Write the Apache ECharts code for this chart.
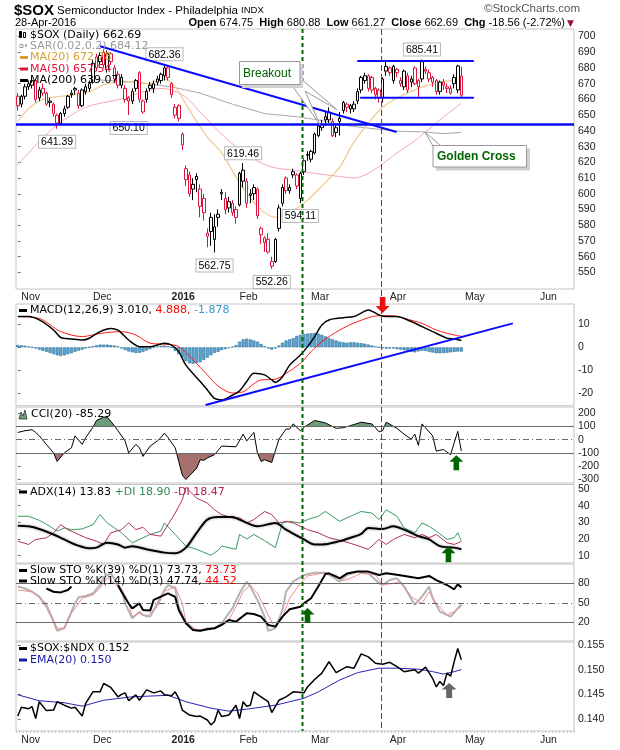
<!DOCTYPE html>
<html><head><meta charset="utf-8">
<script src="https://cdn.jsdelivr.net/npm/echarts@6.0.0/dist/echarts.min.js"></script>
<style>html,body{margin:0;padding:0;background:#fff}#c{width:620px;height:750px}</style>
</head><body><div id="c"></div>
<script>
const FONT = 'DejaVu Sans';
const AFONT = 'Liberation Sans';
const RED = '#dc143c';

// ---------- categories (trading days, incl. future slots) ----------
const HOLIDAYS = ['2015-11-26','2015-12-25','2016-01-01','2016-01-18','2016-02-15','2016-03-25','2016-05-30'];
function tradingDays(a, b) {
  const out = []; let d = new Date(a + 'T00:00:00Z'); const e = new Date(b + 'T00:00:00Z');
  while (d <= e) { const s = d.toISOString().slice(0,10); const w = d.getUTCDay();
    if (w !== 0 && w !== 6 && HOLIDAYS.indexOf(s) < 0) out.push(s); d = new Date(d.getTime() + 86400000); }
  return out;
}
const dates = tradingDays('2015-10-30','2016-06-14');
const monthNames = ['Jan','Feb','Mar','Apr','May','Jun','Jul','Aug','Sep','Oct','Nov','Dec'];

// ---------- price candles [open, close, low, high] ----------
const ohlc = [
[662,656,653,664],[657,662,655,663],[662,668,660,670],[668,670,666,672],[669,672,667,674],
[672,660,658,673],[661,666,659,668],[667,664,662,670],[664,657,656,665],[659,658,655,661],
[657,651,649,658],[650,645,641.39,651],[645,651,644,652],[651,654,649,656],[655,662,654,663],
[664,663,661,666],[667,666,663,668],[664,656,654,666],[656,666,655,667],[665,668,663,670],
[667,670,665,672],[671,683,670,685],[687,680,678,689],[688,684,681,690],[690,682,680,692],
[679,689,677,691],[689,684,682,690],[680,673,671,682],[676,669,667,678],[669,674,667,676],
[667,660,658,669],[661,659,650.1,662],[659,665,657,667],[667,672,665,673],[677,660,658,678],
[659,652,651,660],[660,665,658,667],[669,667,665,671],[667,670,664,672],[671,673,669,675],
[672,676,670,677],[675,680,672,682.36],[680,674,672,681],[670,663,661,671],[650,655,648,657],
[656,648,646,657],[638,631,628,639],[616,609,605,618],[612,600,598,614],[606,603,596,610],
[611,609,601,613],[603,592,585,606],[597,588,583,600],[575,573,566,578],[585,576,567,588],
[571,579,562.75,587],[585,587,579,590],[601,600,596,603],[597,590,587,601],[591,595,588,598],
[594,588,586,596],[590,585,581,592],[593,613,592,614],[608,615,604,619.46],[608,594,591,610],
[600,599,594,603],[600,604,596,606],[603,586,584,604],[578,574,568,579],[569,572,563,573],
[571,563,562,575],[554,557,552.26,560],[557,571,556,572],[578,591,576,593],[594,604,592,606],
[610,602,600,611],[602,604,600,606],[612,614,610,616],[612,605,603,613],[597,613,594.11,614],
[614,621,612,622],[625,624.5,621,627],[622,627,620,628],[626,638,625,639],[637,643,636,645],
[642,644,640,647],[647,649,643,652],[647,652,645,655],[646,637,636,648],[639,642,636,644],
[648,646,637,652],[653,658,651,659],[657,655,652,658],[654,656,651,657],[654,657,652,659],
[659,665,657,667],[666,674,664,675],[672,675,670,677],[675,667,665,676],[674,666,664,675],
[667,663,660,668],[666,661,658,667],[661,673,658,674],[678,681,675,685],[680,677,675,681],
[672,681,670,682],[679,677,674,680],[672,670,668,674],[668,678,666,679],[675,666,664,677],
[673,671,668,675],[680,670,669,681],[672,668,661,673],[673,684,671,685.41],[678,679,676,681],
[677,673,671,679],[674,671,668,675],[672,665,663,673],[665,671,663,672],[671,669,666,673],
[667,668,664,670],[667,664,663,669],[670,674,667,676],[666,681.25,664,682],[674.75,662.69,661.27,680.88]
];
const ma20 = [[0,646],[3,654],[7,660],[12,662],[16,663],[20,665],[25,670],[31,671],[36,670],[41,673],[44,668],[47,657],[50,646],[53,636],[57,626],[62,607],[67,592],[72,585],[76,588],[81,596],[85,605],[90,617],[94,633],[98,645],[102,655],[107,662],[112,667],[117,670.5],[121,672],[124,672.78]];
const ma50 = [[0,618.5],[10,642],[19,655],[28,659.8],[40,667],[46,663],[51,652],[56,640],[61,630],[66,622],[71,617],[77,615],[83,613],[90,611],[94,610],[98,613],[102,619],[106,626],[110,632],[114,639.3],[118,647],[124,657.54]];
const ma200 = [[22,672.5],[33,671],[43,668],[51,664],[60,657],[69,651],[78,649],[84,647],[93,643],[101,641],[107,639.7],[114,639.3],[119,638.2],[124,639.07]];
const hiLoLabels = [[11,641.39,'below'],[31,650.10,'below'],[41,682.36,'above'],[55,562.75,'below'],[63,619.46,'above'],[71,552.26,'below'],[79,594.11,'below'],[113,685.41,'above']];
const downTrend = [[23.0,693.8],[105.9,639.3]];
const supportLine = [[-0.5,644],[155.5,644]];
const rangeTop = [[94.9,684.5],[127.5,684.5]];
const rangeBottom = [[95.7,661],[127.5,661]];

// ---------- MACD(12,26,9) ----------
const macd = [[0,13.5],[3,13.5],[6,12],[10,7.6],[12,4.3],[15,3.7],[18,3.2],[20,4],[23,6.9],[26,8.3],[28,7.5],[31,3.2],[34,0.3],[37,0.3],[41,1.8],[43,1.0],[45,-1.9],[47,-7.8],[51,-15],[53,-18.7],[55,-22.4],[57,-23.1],[60,-21],[62,-19.1],[64,-15],[66,-11.4],[69,-12.1],[71,-14.3],[72,-15.4],[74,-12.9],[76,-7.8],[79,-3.4],[81,0.3],[83,4.7],[85,9.8],[87,12],[91,13],[94,13.5],[96,15],[98,16.4],[101,14.2],[103,13.5],[106,13.5],[110,11.3],[113,9.1],[116,6.9],[120,4],[122,3.7],[124,3.01]];
const macdSignal = [[0,13.5],[6,12.7],[12,6.9],[18,4.7],[23,6.1],[29,6.9],[33,5.4],[37,1.8],[42,1.3],[45,0.3],[49,-5.5],[53,-12.1],[56,-17],[60,-20],[63,-19.5],[66,-16],[68,-14.3],[72,-14],[75,-11.4],[79,-7],[82,-1.9],[85,2.5],[90,7.6],[95,11.3],[101,13.9],[105,13.8],[108,12.7],[113,10.5],[117,7.6],[122,5.4],[124,4.888]];
const macdHist = [1.0,0.9,0.7,0.4,0.0,-0.5,-1.0,-1.5,-2.0,-2.5,-3.0,-3.5,-3.8,-3.5,-3.0,-2.6,-2.0,-1.5,-1.0,-0.5,
0.0,0.5,0.9,1.2,1.2,1.2,1.0,0.8,0.4,-0.5,-1.2,-1.8,-2.2,-2.5,-2.4,-2.0,-1.4,-0.8,-0.2,0.3,0.6,0.8,0.5,
0.0,-1.5,-3.0,-4.5,-6.0,-7.0,-7.2,-7.0,-6.5,-5.5,-4.5,-3.5,-2.5,-2.0,-1.2,-0.8,-0.3,0.3,1.0,
2.5,3.5,3.8,3.5,3.0,2.5,1.5,0.5,-0.5,-1.0,-0.5,0.8,2.0,3.0,3.5,4.0,5.0,5.5,5.8,6.0,
6.2,6.3,6.0,5.5,4.8,4.0,3.5,3.0,2.5,2.2,2.0,2.2,2.2,2.0,1.8,1.6,1.2,0.8,0.4,0.0,-0.4,-0.6,
-0.5,-0.5,-0.8,-1.0,-1.3,-1.6,-2.0,-2.2,-1.8,-1.5,-1.6,-2.0,-2.3,-2.6,-2.6,-2.5,-2.4,-2.2,-2.0,-1.85,-1.878];
const macdTrend = [[52.5,-25.3],[138.4,10.5]];

// ---------- CCI(20) ----------
const cci = [[0,53.8],[2,66.7],[4,74.4],[5,53.8],[6,28.2],[8,-35.9],[10,-100],[11,-164],[13,-100],[15,-61.5],[16,28.2],[18,-35.9],[19,15.4],[21,92.3],[22,143.6],[24,169],[25,169],[27,105],[29,28.2],[30,-10],[31,-100],[33,-35.9],[34,-60],[35,-126],[37,-48.7],[39,-10],[40,15.4],[41,48.7],[42,15.4],[44,-61.5],[45,-164],[46,-267],[47,-300],[50,-215],[51,-151],[52,-156],[53,-138],[55,-113],[57,-48.7],[61,-53.8],[63,41],[64,-10],[66,53.8],[67,-100],[68,-164],[69,-151],[71,-172],[73,2.6],[75,79.5],[76,79.5],[77,118],[79,66.7],[80,92.3],[83,143.6],[86,125.6],[89,84.6],[91,89.7],[93,105],[96,130.8],[99,118],[101,59],[102,66.7],[103,130.8],[106,84.6],[108,41],[110,2.6],[111,41],[112,-43.6],[113,118],[116,28.2],[117,-87],[119,-74],[121,-113],[122,-23],[123,61.5],[124,-85.29]];

// ---------- ADX(14) ----------
const adx = [[0,28],[3,27.6],[6,26],[10,22.7],[13,19.7],[16,16.7],[20,14.4],[22,14.8],[25,17.7],[28,16.7],[30,14.8],[32,15.7],[36,13.8],[41,11.8],[44,11.4],[47,14.8],[50,23.7],[53,31.6],[56,33.2],[60,33.2],[62,31.6],[67,27.6],[72,29.6],[75,25.6],[80,19.7],[83,16.7],[85,16.7],[90,18.7],[93,20.7],[96,23.1],[98,26.6],[102,26],[105,27.6],[108,25.6],[112,21.7],[115,19.7],[118,15.7],[122,14.8],[124,13.83]];
const plusDI = [[0,33.6],[3,33.6],[6,31.2],[9,27.6],[11,24.7],[13,26.6],[15,25.6],[18,26],[21,28.6],[23,34.6],[25,29.6],[29,23.7],[32,17.7],[34,19.7],[37,22.7],[40,24.7],[41,29.6],[44,22.7],[47,15.7],[50,13.8],[54,10.2],[56,13.2],[57,15.7],[61,13.8],[62,22.7],[64,20],[66,22.7],[69,19],[72,14.8],[74,29.6],[76,30.6],[79,29.6],[81,31.6],[84,33.6],[86,36.5],[90,30.6],[93,33.6],[96,36.5],[99,35.5],[101,31.6],[103,37.5],[106,33.6],[108,26.6],[111,23.7],[113,29.6],[115,27.6],[117,24.7],[120,19.7],[122,20.7],[123,23.7],[124,18.9]];
const minusDI = [[0,18.7],[3,16.7],[5,19.7],[8,20.7],[10,23.7],[12,28.6],[14,25.6],[16,23.7],[19,20.7],[22,18.7],[24,16.7],[26,23.7],[29,25.6],[31,29.6],[33,25.6],[35,27],[37,22.7],[40,21.7],[42,28.6],[44,35.5],[46,43.5],[47,51],[50,44.5],[53,41.5],[55,37.5],[57,34.6],[60,32.6],[62,32.6],[64,29.6],[66,31.6],[69,36.5],[71,34.6],[73,29.6],[75,30.6],[77,29.6],[81,25.6],[84,23.7],[87,20.7],[91,18.7],[94,16.7],[98,13.8],[101,19.7],[103,16.7],[105,19.7],[108,22.7],[111,20.7],[113,22.7],[115,20.7],[117,22.7],[120,17.7],[122,16.7],[124,18.47]];

// ---------- Slow STO ----------
const sto39 = [[8,72],[10,67],[12,66],[14,69.7],[15,75],[16,null],[28,77],[29,67],[31,49],[32,41.5],[34,49],[35,39],[37,38],[38,54.4],[40,59.5],[42,64.6],[44,59],[45,39],[47,18.5],[49,8.2],[51,7],[53,9.2],[55,10.8],[57,15.9],[59,23.6],[61,21],[64,33.8],[66,32.8],[68,28.7],[70,15.9],[72,13.3],[74,28.7],[76,40],[79,44],[80,49.2],[82,57],[84,75],[86,94.4],[87,95.4],[90,87.7],[92,95],[95,98],[98,98],[101,92.8],[103,95.4],[106,93],[112,87.7],[115,91.3],[117,85],[120,77.4],[122,70.8],[123,78.5],[124,73.73]];
const sto14K = [[0,75],[2,72],[4,67],[6,59.5],[8,44],[10,21],[11,7],[13,10.8],[14,23.6],[16,49],[17,58.5],[19,60.5],[21,64.6],[23,77.4],[24,90],[26,95.4],[29,69.7],[30,49],[32,26],[34,36.4],[35,31.3],[37,28.7],[39,49],[41,69.7],[42,77.4],[44,72.3],[45,44],[47,18.5],[49,8.2],[51,7],[53,10.8],[55,10.8],[57,18.5],[60,41.5],[62,64.6],[64,82.6],[65,74.9],[67,54.4],[69,28.7],[70,7],[72,10.8],[74,39],[75,67.2],[77,82.6],[80,92.8],[83,96.4],[86,96.4],[88,89.7],[90,82.6],[92,92.8],[95,98],[98,95.4],[101,80],[102,77.4],[104,85],[106,87.7],[108,74.9],[111,46.7],[113,59.5],[115,74.9],[116,57],[118,36.4],[121,28.7],[123,41.5],[124,47.74]];
const sto14D = [[0,69.7],[4,67],[8,49],[11,10.8],[13,10.8],[15,33.8],[18,57],[21,62],[23,72.3],[25,88],[29,72.3],[31,49],[32,28.7],[34,33.8],[36,28.7],[39,44],[41,67.2],[44,75],[46,49],[47,21],[50,8.2],[55,10.8],[59,23.6],[61,44],[63,67.2],[65,77.4],[67,64.6],[70,31.3],[72,10.8],[74,28.7],[76,57],[79,80],[81,91.3],[85,95.4],[89,92.8],[91,84],[93,87.7],[96,95.4],[100,92.8],[102,77.4],[105,80],[107,82.6],[110,59.5],[113,49],[115,67.2],[117,49],[120,31.3],[122,36.4],[124,44.52]];

// ---------- $SOX:$NDX ----------
const ratio = [[0,0.1406],[1,0.1424],[3,0.1421],[4,0.1425],[5,0.1401],[6,0.1435],[8,0.1417],[10,0.1418],[11,0.1435],[13,0.1428],[15,0.1422],[16,0.1424],[18,0.1406],[19,0.1432],[21,0.1455],[23,0.1455],[24,0.1472],[26,0.1464],[28,0.1445],[29,0.145],[30,0.1453],[31,0.1437],[33,0.1449],[34,0.1438],[36,0.1459],[38,0.1453],[40,0.1457],[41,0.1449],[43,0.1447],[44,0.1455],[45,0.1442],[46,0.1418],[48,0.1408],[50,0.1405],[51,0.1406],[53,0.1398],[54,0.1388],[55,0.1395],[56,0.1418],[57,0.1405],[59,0.1408],[61,0.1428],[62,0.1401],[63,0.1435],[64,0.1426],[65,0.1428],[66,0.1455],[68,0.1445],[70,0.1435],[71,0.1413],[73,0.1438],[75,0.1445],[77,0.1455],[80,0.1453],[81,0.1465],[83,0.148],[85,0.1493],[87,0.1516],[89,0.1494],[92,0.1506],[94,0.1503],[96,0.1532],[98,0.1526],[100,0.1513],[102,0.1511],[104,0.1515],[106,0.1506],[108,0.1496],[111,0.15],[112,0.1493],[114,0.1505],[116,0.1482],[117,0.1465],[118,0.1476],[119,0.1468],[120,0.1493],[121,0.1487],[122,0.1516],[123,0.1543],[124,0.152]];
const ratioEma = [[0,0.1449],[6,0.1437],[13,0.1433],[18,0.1426],[24,0.1438],[32,0.1445],[42,0.1448],[47,0.1435],[54,0.1422],[59,0.1416],[64,0.142],[72,0.1428],[80,0.1442],[84,0.1455],[90,0.1479],[95,0.1494],[101,0.1503],[106,0.1503],[112,0.1501],[116,0.1496],[119,0.1491],[122,0.1496],[124,0.150]];

// ---------- event markers (category positions) ----------
const greenLineAt = 79.6, redLineAt = 101.7;
const arrows = { macd: [102.0, 18.6], cci: [122.6, -174], adx: [120.4, 10.8], sto: [81.0, 30.5], ratio: [120.6, 0.14578] };
const goldenCrossPt = [113.8, 639.3];
const breakoutTips = [[84.5, 643.9],[89.2, 653.5]];

// ---------- layout ----------
const N = dates.length;
const GL = 16, GR = 46;
const GRIDS = [
  {top: 29, height: 260, min: 539.48, max: 704.77, ticks: [550,560,570,580,590,600,610,620,630,640,650,660,670,680,690,700]},
  {top: 304, height: 101.7, min: -25.6, max: 19.0, ticks: [10,0,-10,-20]},
  {top: 407, height: 76, min: -326, max: 245, ticks: [200,100,0,-100,-200,-300]},
  {top: 484.5, height: 78.5, min: 5.58, max: 52.67, ticks: [50,40,30,20,10]},
  {top: 564, height: 77, min: -8.8, max: 109.7, ticks: [80,50,20]},
  {top: 642, height: 89, min: 0.137568, max: 0.155608, ticks: [0.155,0.15,0.145,0.14]}
];
const UP = 'path://M5,0 L10,6 L7,6 L7,14 L3,14 L3,6 L0,6 Z';
const DOWN = 'path://M3,0 L7,0 L7,8 L10,8 L5,14 L0,8 L3,8 Z';

const monthStart = dates.map((d, i) => i > 0 && d.slice(5,7) !== dates[i-1].slice(5,7));
function monthLabel(v) { const m = +v.slice(5,7); return m === 1 ? '{b|' + v.slice(0,4) + '}' : monthNames[m-1]; }

const xAxes = GRIDS.map((g, k) => ({
  type: 'category', gridIndex: k, data: dates, boundaryGap: true,
  axisLine: {show: false},
  axisTick: (k === 5) ? {show: true, interval: 0, length: 2, lineStyle: {color: '#c8c8c8'}} : {show: false},
  axisLabel: (k === 0 || k === 5) ? {
    show: true, interval: (i) => monthStart[i], formatter: (v) => monthLabel(v), align: 'left',
    margin: k === 0 ? 3 : 4, fontSize: 10.5, fontFamily: AFONT, color: '#222',
    rich: {b: {fontWeight: 'bold', fontSize: 10.5, fontFamily: AFONT, color: '#222'}}
  } : {show: false},
  splitLine: {show: false}
}));
GRIDS.forEach((g, k) => xAxes.push({type: 'value', gridIndex: k, min: -0.5, max: N - 0.5, show: false}));
const OV = (k) => 6 + k;

const yAxes = GRIDS.map((g, k) => ({
  type: 'value', gridIndex: k, position: 'right', min: g.min, max: g.max, scale: true,
  axisLine: {show: false}, splitLine: {show: false},
  axisTick: {show: true, length: 3, customValues: g.ticks, lineStyle: {color: '#777'}},
  axisLabel: {show: true, customValues: g.ticks, margin: 4, fontSize: 10.5, fontFamily: AFONT, color: '#222',
    formatter: k === 5 ? (v) => v.toFixed(3) : (v) => String(v)}
}));

const candleData = ohlc.map((d, i) => {
  const prev = i > 0 ? ohlc[i-1][1] : d[0];
  const col = d[1] < prev ? RED : '#000';
  return {value: d, itemStyle: {color: '#fff', color0: col, borderColor: col, borderColor0: col}};
});

function lineS(k, data, color, width, extra) {
  return Object.assign({type: 'line', xAxisIndex: k, yAxisIndex: k, data: data, symbol: 'none',
    lineStyle: {color: color, width: width}, itemStyle: {color: color}, silent: true}, extra || {});
}
function trend(k, data, w) {
  return {type: 'line', xAxisIndex: OV(k), yAxisIndex: k, data: data, symbol: 'none', silent: true,
    lineStyle: {color: '#0a0aff', width: w}, z: 5};
}
function arrowS(k, coord, sym, size, color) {
  return {type: 'line', xAxisIndex: OV(k), yAxisIndex: k, data: [], symbol: 'none', silent: true, z: 10,
    markPoint: {silent: true, label: {show: false}, data: [{coord: coord, symbol: sym, symbolSize: size, itemStyle: {color: color}}]}};
}
const refLines = (vals) => ({silent: true, symbol: 'none', label: {show: false},
  data: vals.map(v => ({yAxis: v[0], lineStyle: {color: '#6a6a6a', width: 1, type: v[1] ? [6,3,1,3] : 'solid'}}))});

const series = [];
series.push(lineS(0, ma200, '#a8a8a8', 1));
series.push(lineS(0, ma50, '#f3a9b0', 1, {smooth: 0.3}));
series.push(lineS(0, ma20, '#f1c98e', 1.2, {smooth: 0.3}));
series.push({
  type: 'candlestick', xAxisIndex: 0, yAxisIndex: 0, data: candleData, barWidth: 3, z: 3,
  itemStyle: {borderWidth: 1},
  markPoint: {silent: true, symbol: 'rect', symbolSize: 0,
    data: hiLoLabels.map(h => ({coord: [h[0], h[1]], value: h[1],
      label: {show: true, formatter: h[1].toFixed(2), position: h[2] === 'below' ? 'bottom' : 'top',
        distance: h[2] === 'below' ? 7 : 4, color: '#000', fontSize: 10.5, fontFamily: AFONT,
        backgroundColor: '#fff', borderColor: '#b8b8b8', borderWidth: 1, padding: [1, 2, 0, 2]}}))}
});
series.push(trend(0, downTrend, 2));
series.push(trend(0, supportLine, 2.5));
series.push(trend(0, rangeTop, 2));
series.push(trend(0, rangeBottom, 2));

series.push({type: 'bar', xAxisIndex: 1, yAxisIndex: 1, data: macdHist, barWidth: '85%', silent: true,
  itemStyle: {color: '#5aa7d3', borderColor: '#2b6f98', borderWidth: 0.6}});
series.push(lineS(1, macdSignal, '#ff1a1a', 1, {smooth: 0.3}));
series.push(lineS(1, macd, '#000', 1.5, {smooth: 0.3}));
series.push(trend(1, macdTrend, 2));
series.push(arrowS(1, arrows.macd, DOWN, [14, 16], '#ee1111'));

const cciAreaIndex = series.length;
series.push(lineS(2, cci, '#000', 0, {areaStyle: {opacity: 1}, lineStyle: {width: 0, opacity: 0}, z: 1}));
series.push(lineS(2, cci, '#000', 1, {markLine: refLines([[100],[-100],[0,true]]), z: 3}));
series.push(arrowS(2, arrows.cci, UP, [14, 15], '#006400'));

series.push(lineS(3, plusDI, '#3a9a5e', 1));
series.push(lineS(3, minusDI, '#b4305c', 1));
series.push(lineS(3, adx, '#000', 2, {smooth: 0.3,
  lineStyle: {color: '#000', width: 2, shadowColor: 'rgba(0,0,0,0.35)', shadowBlur: 3}}));
series.push(arrowS(3, arrows.adx, UP, [14, 16], '#006400'));

series.push(lineS(4, sto14K, '#b3b3b3', 2, {markLine: refLines([[80],[20],[50,true]])}));
series.push(lineS(4, sto14D, '#f08f8f', 1));
series.push(lineS(4, sto39, '#000', 2));
series.push(arrowS(4, arrows.sto, UP, [14, 15], '#006400'));

series.push(lineS(5, ratioEma, '#2424b8', 1));
series.push(lineS(5, ratio, '#000', 1.5));
series.push(arrowS(5, arrows.ratio, UP, [15, 15], '#666'));

const option = {
  animation: false, backgroundColor: '#fff', textStyle: {fontFamily: FONT},
  grid: GRIDS.map(g => ({left: GL, right: GR, top: g.top, height: g.height, show: true,
    borderColor: '#c4c4c4', borderWidth: 1, backgroundColor: '#fff'})),
  xAxis: xAxes, yAxis: yAxes,
  visualMap: [{type: 'piecewise', show: false, seriesIndex: cciAreaIndex, dimension: 1,
    pieces: [{gt: 100, color: '#6e9d7a'}, {lt: -100, color: '#a66f6d'}, {gte: -100, lte: 100, color: 'rgba(255,255,255,0)'}],
    outOfRange: {color: 'rgba(255,255,255,0)'}}],
  series: series
};

const chart = echarts.init(document.getElementById('c'), null, {width: 620, height: 750});
chart.setOption(option);

// ---------- annotations / legends ----------
function T(x, y, text, o) {
  o = o || {};
  return {type: 'text', x: x, y: y, z: 50, silent: true, style: {text: text, fill: o.fill || '#000',
    fontSize: o.size || 11, fontFamily: o.font || FONT, fontWeight: o.weight || 'normal',
    verticalAlign: 'middle', align: o.align || 'left', rich: o.rich || {}}};
}
function sw(x, y, color) { return {type: 'rect', z: 50, silent: true, shape: {x: x, y: y - 1.5, width: 8, height: 3}, style: {fill: color}}; }
const px = (k, p) => chart.convertToPixel({xAxisIndex: OV(k), yAxisIndex: k}, p);
const xg = px(0, [greenLineAt, 600])[0];
const xr = px(0, [redLineAt, 600])[0];
const gc = px(0, goldenCrossPt);
const bt1 = px(0, breakoutTips[0]);
const bt2 = px(0, breakoutTips[1]);
const g = [];
g.push({type: 'line', z: 20, silent: true, shape: {x1: xg, y1: 29, x2: xg, y2: 731}, style: {stroke: '#006a00', lineWidth: 2, lineDash: [4, 3]}});
g.push({type: 'line', z: 20, silent: true, shape: {x1: xr, y1: 29, x2: xr, y2: 731}, style: {stroke: '#ee0000', lineWidth: 1, lineDash: [6, 3]}});
// header
g.push(T(14, 10.5, '{a|$SOX} {b|Semiconductor Index - Philadelphia} {c|INDX}', {font: AFONT, size: 11,
  rich: {a: {fontSize: 15, fontWeight: 'bold', fontFamily: AFONT, fill: '#000'},
         b: {fontSize: 11.5, fontFamily: AFONT, fill: '#000'}, c: {fontSize: 9.5, fontFamily: AFONT, fill: '#000'}}}));
g.push(T(580, 9, '\u00A9StockCharts.com', {size: 11.5, font: AFONT, align: 'right', fill: '#555'}));
g.push(T(15, 23, '28-Apr-2016', {size: 11, font: AFONT}));
g.push(T(565, 23, '{b|Open} 674.75  {b|High} 680.88  {b|Low} 661.27  {b|Close} 662.69  {b|Chg} -18.56 (-2.72%)',
  {size: 11, font: AFONT, align: 'right', rich: {b: {fontWeight: 'bold', fontSize: 11, fontFamily: AFONT, fill: '#000'}}}));
g.push(T(567, 23.5, '\u25BC', {size: 9, fill: '#a01030'}));
// price legend
g.push({type: 'rect', z: 50, silent: true, shape: {x: 19.5, y: 31.5, width: 2, height: 6}, style: {fill: '#000', stroke: '#000', lineWidth: 1}});
g.push({type: 'rect', z: 50, silent: true, shape: {x: 23.5, y: 32.5, width: 2, height: 5}, style: {fill: '#fff', stroke: '#000', lineWidth: 1}});
g.push(T(30, 35, '$SOX (Daily) 662.69'));
g.push({type: 'rect', z: 50, silent: true, shape: {x: 20, y: 44.5, width: 3, height: 3}, style: {fill: '#fff', stroke: '#999', lineWidth: 1}});
g.push({type: 'rect', z: 50, silent: true, shape: {x: 25, y: 44.5, width: 2, height: 2}, style: {fill: '#999'}});
g.push(T(30, 46, 'SAR(0.02,0.2) 684.12', {fill: '#999'}));
g.push(sw(20, 57.5, '#d9a030')); g.push(T(30, 57.5, 'MA(20) 672.78', {fill: '#d9a030'}));
g.push(sw(20, 69, RED)); g.push(T(30, 69, 'MA(50) 657.54', {fill: RED}));
g.push(sw(20, 80.5, '#000')); g.push(T(30, 80.5, 'MA(200) 639.07'));
// MACD legend
const R11 = (c) => ({fill: c, fontSize: 11, fontFamily: FONT});
g.push(sw(19, 310.5, '#000'));
g.push(T(30, 310.5, '{k|MACD(12,26,9) 3.010, }{r|4.888, }{c|-1.878}', {rich: {k: R11('#000'), r: R11('#ff0000'), c: R11('#3399cc')}}));
// CCI legend
g.push({type: 'polygon', z: 50, silent: true, shape: {points: [[19,419],[21,412],[23,416],[25,410],[27,419]]}, style: {fill: '#6e9d7a', stroke: '#333', lineWidth: 0.8}});
g.push(T(31, 414.5, 'CCI(20) -85.29'));
// ADX legend
g.push(sw(19, 492, '#000'));
g.push(T(30, 492, '{k|ADX(14) 13.83 }{g|+DI 18.90 }{r|-DI 18.47}', {rich: {k: R11('#000'), g: R11('#2e8b57'), r: R11('#b22252')}}));
// STO legend
g.push(sw(19, 570.5, '#000'));
g.push(T(30, 570.5, '{k|Slow STO %K(39) %D(1) 73.73, }{r|73.73}', {rich: {k: R11('#000'), r: R11('#ff0000')}}));
g.push(sw(19, 581, '#000'));
g.push(T(30, 581, '{k|Slow STO %K(14) %D(3) 47.74, }{r|44.52}', {rich: {k: R11('#000'), r: R11('#ff0000')}}));
// ratio legend
g.push(sw(19, 648.5, '#000')); g.push(T(30, 648.5, '$SOX:$NDX 0.152'));
g.push(sw(19, 660, '#1a1aa8')); g.push(T(30, 660, 'EMA(20) 0.150', {fill: '#1a1aa8'}));
// Breakout callout
g.push({type: 'polygon', z: 40, silent: true, shape: {points: [[291, 84], bt1, [305, 91], bt2, [300, 78]]}, style: {fill: '#fff', stroke: '#999', lineWidth: 1}});
g.push({type: 'rect', z: 41, silent: true, shape: {x: 242, y: 64, width: 61, height: 24}, style: {fill: '#d0d0d0'}});
g.push({type: 'rect', z: 42, silent: true, shape: {x: 239.5, y: 61.5, width: 60.5, height: 23}, style: {fill: '#fff', stroke: '#999', lineWidth: 1}});
g.push(Object.assign(T(243, 73.5, 'Breakout', {size: 12, font: AFONT, fill: '#006400'}), {z: 43}));
// Golden Cross callout
g.push({type: 'polygon', z: 40, silent: true, shape: {points: [[433, 146], gc, [441, 146]]}, style: {fill: '#fff', stroke: '#999', lineWidth: 1}});
g.push({type: 'rect', z: 41, silent: true, shape: {x: 436, y: 148.5, width: 94, height: 22}, style: {fill: '#d0d0d0'}});
g.push({type: 'rect', z: 42, silent: true, shape: {x: 433, y: 145.5, width: 93.5, height: 21.5}, style: {fill: '#fff', stroke: '#999', lineWidth: 1}});
g.push(Object.assign(T(437, 156.5, 'Golden Cross', {size: 12, font: AFONT, weight: 'bold', fill: '#006400'}), {z: 43}));

chart.setOption({graphic: g});
</script>
</body></html>
